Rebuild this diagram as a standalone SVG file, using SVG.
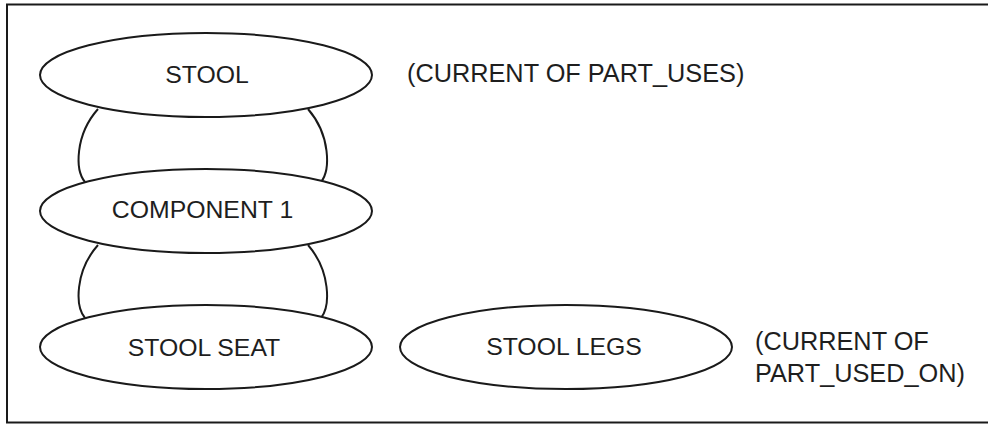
<svg xmlns="http://www.w3.org/2000/svg" width="988" height="424" viewBox="0 0 988 424">
<style>
.n{fill:#fff;stroke:#1a1a1a;stroke-width:2}
.c{fill:none;stroke:#1a1a1a;stroke-width:2}
text{font-family:"Liberation Sans",Arial,sans-serif;font-size:24.8px;fill:#1e1e1e}
.m{text-anchor:middle}
.l{font-size:25.3px}
</style>
<rect x="7" y="4.5" width="1000" height="418" fill="none" stroke="#1a1a1a" stroke-width="2"/>
<g id="connectors">
<path class="c" d="M98,109 C75,135 75,170 85,182"/>
<path class="c" d="M308,109 C330.5,135 330.5,170 321,182"/>
<path class="c" d="M98,245 C75,271 75,306 85,318"/>
<path class="c" d="M308,245 C330.5,271 330.5,306 321,318"/>
</g>
<g id="stool">
<ellipse class="n" cx="206" cy="75" rx="166" ry="42"/>
<text class="m" x="207" y="83">STOOL</text>
</g>
<g id="component1">
<ellipse class="n" cx="206" cy="211" rx="166" ry="42"/>
<text class="m" x="202.5" y="218">COMPONENT 1</text>
</g>
<g id="stool-seat">
<ellipse class="n" cx="206" cy="347" rx="166" ry="42"/>
<text class="m" x="204" y="355.5">STOOL SEAT</text>
</g>
<g id="stool-legs">
<ellipse class="n" cx="566" cy="347" rx="166" ry="42"/>
<text class="m" x="564" y="355">STOOL LEGS</text>
</g>
<g id="labels">
<text class="l" x="407" y="82">(CURRENT OF PART_USES)</text>
<text class="l" x="755" y="350">(CURRENT OF</text>
<text class="l" x="755" y="381.5">PART_USED_ON)</text>
</g>
</svg>
